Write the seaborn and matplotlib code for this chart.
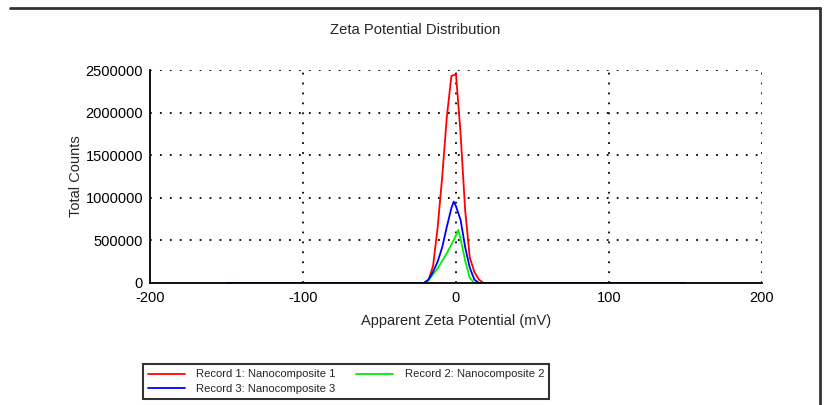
import matplotlib
matplotlib.use("Agg")
import matplotlib.pyplot as plt
import seaborn as sns
import pandas as pd
from matplotlib.lines import Line2D
from matplotlib.ticker import MultipleLocator

sns.set_style("white")
plt.rcParams['font.family'] = ['Liberation Sans', 'DejaVu Sans']

# Data
x_r1 = [-150, -21, -18, -15, -12, -9, -6, -3, 0, 3, 6, 9, 12, 15, 18, 150]
y_r1 = [0, 0, 30000, 200000, 650000, 1250000, 1950000, 2430000, 2450000,
        1750000, 850000, 300000, 130000, 40000, 0, 0]

x_r3 = [-150, -21, -18, -15, -12, -9, -6, -3, -1.5, 0, 3, 6, 9, 12, 15, 150]
y_r3 = [0, 0, 40000, 130000, 250000, 420000, 660000, 880000, 955000, 900000,
        740000, 420000, 180000, 40000, 0, 0]

x_r2 = [-150, -21, -18, -15, -12, -9, -6, -3, 0, 1.5, 3, 6, 9, 12, 150]
y_r2 = [0, 0, 30000, 100000, 170000, 260000, 350000, 450000, 560000, 622000,
        520000, 260000, 60000, 0, 0]

labels = ["Record 1: Nanocomposite 1", "Record 2: Nanocomposite 2",
          "Record 3: Nanocomposite 3"]
colors = ["#ff0000", "#00ee00", "#0000ff"]

x_ticks = [-200, -100, 0, 100, 200]
y_ticks = [0, 500000, 1000000, 1500000, 2000000, 2500000]

fig = plt.figure(figsize=(8.24, 4.05), dpi=100)
ax = fig.add_axes([150/824, 1-283/405, (762-150)/824, (283-70)/405])

series = [(x_r1, y_r1, labels[0], colors[0]),
          (x_r2, y_r2, labels[1], colors[1]),
          (x_r3, y_r3, labels[2], colors[2])]
for xs, ys, lab, col in series:
    df = pd.DataFrame({"x": xs, "y": ys})
    sns.lineplot(data=df, x="x", y="y", ax=ax, color=col, linewidth=1.3,
                 label=lab, sort=False, estimator=None, legend=False)

ax.set_xlim(-200, 200)
ax.set_ylim(0, 2500000)
ax.set_xticks(x_ticks)
ax.set_yticks(y_ticks)
ax.set_xticklabels([str(v) for v in x_ticks])
ax.set_yticklabels([str(v) for v in y_ticks])
ax.xaxis.set_minor_locator(MultipleLocator(50))
ax.yaxis.set_minor_locator(MultipleLocator(250000))
ax.tick_params(axis='both', which='both', direction='inout', colors='black',
               labelsize=10.5, width=1.2)
ax.tick_params(which='major', length=8)
ax.tick_params(which='minor', length=8)
ax.tick_params(axis='x', pad=2)
ax.tick_params(axis='y', pad=1)

for s in ['top', 'right']:
    ax.spines[s].set_visible(False)
for s in ['left', 'bottom']:
    ax.spines[s].set_color('black')
    ax.spines[s].set_linewidth(1.3)

for v in y_ticks[1:]:
    ax.axhline(v, color='black', linestyle=(0, (1, 4.5)), linewidth=1.3, zorder=0)
for v in x_ticks[1:]:
    ax.axvline(v, color='black', linestyle=(0, (1, 4.5)), linewidth=1.3, zorder=0)

ax.set_xlabel("Apparent Zeta Potential (mV)", fontsize=10.5, labelpad=6)
ax.set_ylabel("Total Counts", fontsize=10.5, labelpad=2)
fig.text(415/824, 1-30/405, "Zeta Potential Distribution", ha='center',
         va='center', fontsize=10.6)

handles = [Line2D([], [], color=colors[0], lw=1.3),
           Line2D([], [], color=colors[2], lw=1.3),
           Line2D([], [], color=colors[1], lw=1.3)]
leg_labels = [labels[0], labels[2], labels[1]]
leg = fig.legend(handles, leg_labels, ncol=2, loc='lower left',
                 bbox_to_anchor=(143/824, 1-399/405), frameon=True,
                 fancybox=False, edgecolor='black', fontsize=8.1,
                 handlelength=3.3, handletextpad=1.0, columnspacing=1.8,
                 labelspacing=0.4, borderpad=0.45, borderaxespad=0)
leg.get_frame().set_linewidth(1.5)

# figure frame (top and right edges)
fig.add_artist(Line2D([10/824, 820/824], [1-8/405, 1-8/405], color='#333333',
                      lw=2, transform=fig.transFigure))
fig.add_artist(Line2D([820/824, 820/824], [1-8/405, 0], color='#333333',
                      lw=2, transform=fig.transFigure))

fig.savefig("out.png", dpi=100)
